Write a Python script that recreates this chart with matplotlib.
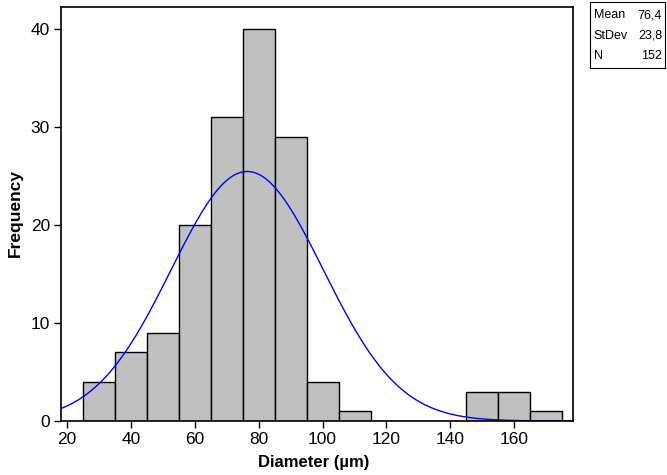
import numpy as np
import matplotlib.pyplot as plt

# histogram bins (centres) and counts
centers = [30, 40, 50, 60, 70, 80, 90, 100, 110, 120, 130, 140, 150, 160, 170]
counts = [4, 7, 9, 20, 31, 40, 29, 4, 1, 0, 0, 0, 3, 3, 1]
mean = 76.4
sd = 23.8
n = 152
width = 10

plt.rcParams['font.family'] = ['Liberation Sans', 'DejaVu Sans']

fig = plt.figure(figsize=(6.67, 4.75), dpi=100)
ax = fig.add_axes([61/667, 1-421/475, (572.7-61)/667, (421-6.7)/475])

ax.bar(centers, counts, width=width, color='#c0c0c0', edgecolor='black', linewidth=1)

xmin, xmax = 18.1, 178.3
xs = np.linspace(xmin, xmax, 400)
ys = n*width/(sd*np.sqrt(2*np.pi))*np.exp(-0.5*((xs-mean)/sd)**2)
ax.plot(xs, ys, color='#0000ff', linewidth=1)

ax.set_xlim(xmin, xmax)
ax.set_ylim(0, 42.3)
ax.set_xticks([20, 40, 60, 80, 100, 120, 140, 160])
ax.set_yticks([0, 10, 20, 30, 40])
ax.tick_params(labelsize=12.5, length=5, width=1, direction='out', pad=3)
for s in ax.spines.values():
    s.set_linewidth(1.2)

ax.set_xlabel('Diameter (µm)', fontsize=12, fontweight='bold')
ax.set_ylabel('Frequency', fontsize=12.5, fontweight='bold')
ax.xaxis.set_label_coords((314-61)/(572.7-61), -(455-421)/(421-6.7))
ax.yaxis.set_label_coords(-(61-23)/(572.7-61), (421-213)/(421-6.7))

# stats box
box = fig.add_axes([590/667, 1-68/475, 75/667, 66/475])
box.set_xticks([])
box.set_yticks([])
labels = ['Mean', 'StDev', 'N']
values = ['76,4', '23,8', '152']
for i in range(3):
    y = 0.80 - i*0.31
    box.text(0.05, y, labels[i], fontsize=9, va='center', ha='left')
    box.text(0.96, y, values[i], fontsize=9, va='center', ha='right')

plt.savefig('out.png', dpi=100)
